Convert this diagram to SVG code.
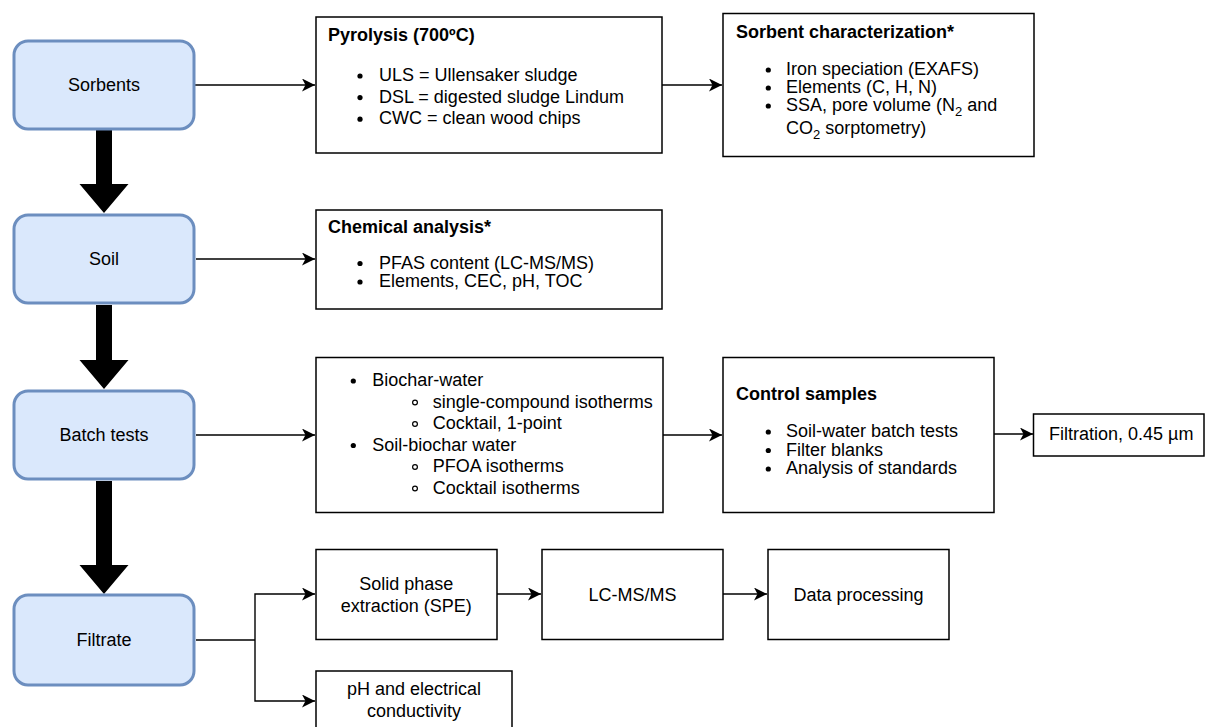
<svg xmlns="http://www.w3.org/2000/svg" width="1205" height="727" viewBox="0 0 1205 727">
<style>
text{font-family:"Liberation Sans",Arial,sans-serif;font-size:18px;fill:#000}
.b{font-weight:bold}
.c{text-anchor:middle}
.stage{fill:#dae8fc;stroke:#6c8ebf;stroke-width:3}
.box{fill:#fff;stroke:#000;stroke-width:1.5}
.ln{fill:none;stroke:#000;stroke-width:1.4}
.dot{fill:#000}
.ring{fill:none;stroke:#000;stroke-width:1.2}
.sub{font-size:13px}
</style>
<defs>
<marker id="arr" markerUnits="userSpaceOnUse" viewBox="0 0 13 13" refX="13" refY="6.5" markerWidth="13" markerHeight="13" orient="auto">
<path d="M0,0 L13,6.5 L0,13 L3.5,6.5 Z" fill="#000"/>
</marker>
</defs>
<rect width="1205" height="727" fill="#fff"/>

<g id="connectors">
<path class="ln" marker-end="url(#arr)" d="M195,85 H315"/>
<path class="ln" marker-end="url(#arr)" d="M662,85 H722"/>
<path class="ln" marker-end="url(#arr)" d="M196,259 H315"/>
<path class="ln" marker-end="url(#arr)" d="M196,435 H315"/>
<path class="ln" marker-end="url(#arr)" d="M663,435 H722"/>
<path class="ln" marker-end="url(#arr)" d="M994,434 H1033"/>
<path class="ln" d="M196,640 H255"/>
<path class="ln" marker-end="url(#arr)" d="M255,640 V594 H315"/>
<path class="ln" marker-end="url(#arr)" d="M255,640 V701 H315"/>
<path class="ln" marker-end="url(#arr)" d="M497,594 H541"/>
<path class="ln" marker-end="url(#arr)" d="M723,594 H767"/>
<polygon points="96,130 112,130 112,184 128.5,184 104,213 79.5,184 96,184" fill="#000"/>
<polygon points="96,305 112,305 112,360 128.5,360 104,389 79.5,360 96,360" fill="#000"/>
<polygon points="96,481 112,481 112,565 128.5,565 104,594 79.5,565 96,565" fill="#000"/>
</g>

<g id="sorbents">
<rect class="stage" x="14" y="41" width="180" height="88" rx="14"/>
<text class="c" x="104" y="91.3">Sorbents</text>
</g>
<g id="soil">
<rect class="stage" x="14" y="215" width="180" height="88" rx="14"/>
<text class="c" x="104" y="265.3">Soil</text>
</g>
<g id="batch-tests">
<rect class="stage" x="14" y="391" width="180" height="88" rx="14"/>
<text class="c" x="104" y="441">Batch tests</text>
</g>
<g id="filtrate">
<rect class="stage" x="14" y="595" width="180" height="90" rx="14"/>
<text class="c" x="104" y="646">Filtrate</text>
</g>

<g id="pyrolysis">
<rect class="box" x="316" y="17" width="346" height="136"/>
<text class="b" x="328" y="40.5">Pyrolysis (700ºC)</text>
<circle class="dot" cx="360" cy="76" r="2.6"/>
<circle class="dot" cx="360" cy="97.6" r="2.6"/>
<circle class="dot" cx="360" cy="119.2" r="2.6"/>
<text x="379" y="81">ULS = Ullensaker sludge</text>
<text x="379" y="102.6">DSL = digested sludge Lindum</text>
<text x="379" y="124.2">CWC = clean wood chips</text>
</g>

<g id="sorbent-characterization">
<rect class="box" x="723" y="13.5" width="311" height="143"/>
<text class="b" x="736" y="38">Sorbent characterization*</text>
<circle class="dot" cx="768.3" cy="70" r="2.6"/>
<circle class="dot" cx="768.3" cy="88" r="2.6"/>
<circle class="dot" cx="768.3" cy="106" r="2.6"/>
<text x="786" y="75">Iron speciation (EXAFS)</text>
<text x="786" y="93">Elements (C, H, N)</text>
<text x="786" y="111">SSA, pore volume (N<tspan class="sub" dy="5">2</tspan><tspan dy="-5"> and</tspan></text>
<text x="786" y="133.5">CO<tspan class="sub" dy="5">2</tspan><tspan dy="-5"> sorptometry)</tspan></text>
</g>

<g id="chemical-analysis">
<rect class="box" x="316" y="210" width="346" height="99"/>
<text class="b" x="328" y="233">Chemical analysis*</text>
<circle class="dot" cx="360" cy="263.5" r="2.6"/>
<circle class="dot" cx="360" cy="282" r="2.6"/>
<text x="379" y="268.5">PFAS content (LC-MS/MS)</text>
<text x="379" y="287">Elements, CEC, pH, TOC</text>
</g>

<g id="batch-details">
<rect class="box" x="316" y="357.5" width="347" height="155"/>
<circle class="dot" cx="353.3" cy="381" r="2.6"/>
<text x="372.3" y="386">Biochar-water</text>
<circle class="ring" cx="415" cy="402.5" r="2.4"/>
<text x="432.7" y="407.5">single-compound isotherms</text>
<circle class="ring" cx="415" cy="424" r="2.4"/>
<text x="432.7" y="429">Cocktail, 1-point</text>
<circle class="dot" cx="353.3" cy="445.5" r="2.6"/>
<text x="372.3" y="450.5">Soil-biochar water</text>
<circle class="ring" cx="415" cy="467" r="2.4"/>
<text x="432.7" y="472">PFOA isotherms</text>
<circle class="ring" cx="415" cy="488.5" r="2.4"/>
<text x="432.7" y="493.5">Cocktail isotherms</text>
</g>

<g id="control-samples">
<rect class="box" x="723" y="357.5" width="271" height="155"/>
<text class="b" x="736" y="399.5">Control samples</text>
<circle class="dot" cx="768.3" cy="432" r="2.6"/>
<circle class="dot" cx="768.3" cy="450.5" r="2.6"/>
<circle class="dot" cx="768.3" cy="469" r="2.6"/>
<text x="786" y="437">Soil-water batch tests</text>
<text x="786" y="455.5">Filter blanks</text>
<text x="786" y="474">Analysis of standards</text>
</g>

<g id="filtration">
<rect class="box" x="1033.5" y="414" width="170.5" height="42"/>
<text x="1049" y="439.5">Filtration, 0.45 µm</text>
</g>

<g id="spe">
<rect class="box" x="316" y="549.5" width="181" height="90"/>
<text class="c" x="406.3" y="590">Solid phase</text>
<text class="c" x="406.3" y="611.7">extraction (SPE)</text>
</g>
<g id="lc-ms">
<rect class="box" x="542" y="549.5" width="181" height="90"/>
<text class="c" x="632.5" y="601">LC-MS/MS</text>
</g>
<g id="data-processing">
<rect class="box" x="768" y="549.5" width="181" height="90"/>
<text class="c" x="858.5" y="601">Data processing</text>
</g>
<g id="ph-ec">
<rect class="box" x="316" y="671" width="196" height="70"/>
<text class="c" x="414" y="695">pH and electrical</text>
<text class="c" x="414" y="716.7">conductivity</text>
</g>
</svg>
